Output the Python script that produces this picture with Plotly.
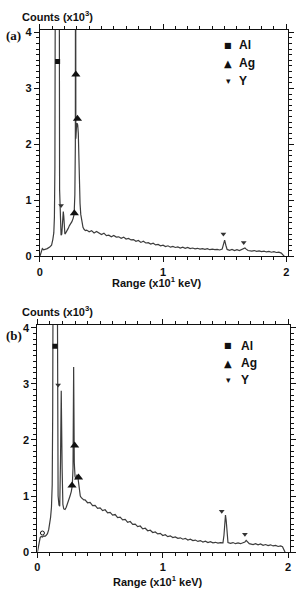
import plotly.graph_objects as go

# ---------------- data: panel (a) ----------------
energy_a = [0.0, 0.005, 0.012, 0.02, 0.03, 0.045, 0.06, 0.08, 0.095, 0.105, 0.113, 0.118, 0.122, 0.126,
            0.157, 0.16, 0.165, 0.172, 0.178, 0.185, 0.19, 0.194, 0.198, 0.203, 0.21, 0.22, 0.23, 0.24,
            0.25, 0.26, 0.27, 0.278, 0.284, 0.288, 0.29, 0.292, 0.297, 0.302, 0.307, 0.312, 0.316, 0.32,
            0.326, 0.332, 0.34, 0.35, 0.36, 0.37,
            0.38, 0.40, 0.42, 0.44, 0.46, 0.48, 0.50, 0.52, 0.54, 0.56, 0.58, 0.60, 0.62, 0.64, 0.66,
            0.68, 0.70, 0.72, 0.74, 0.76, 0.78, 0.80, 0.82, 0.84, 0.86, 0.88, 0.90, 0.92, 0.94, 0.96,
            0.98, 1.00, 1.02, 1.04, 1.06, 1.08, 1.10, 1.12, 1.14, 1.16, 1.18, 1.20, 1.22, 1.24, 1.26,
            1.28, 1.30, 1.32, 1.34, 1.36, 1.38, 1.40, 1.42, 1.44, 1.46, 1.48,
            1.49, 1.50, 1.51, 1.52, 1.54, 1.56, 1.58, 1.60, 1.62, 1.64, 1.655, 1.665, 1.675, 1.69,
            1.72, 1.74, 1.76, 1.78, 1.80, 1.82, 1.84, 1.86, 1.88, 1.90, 1.92, 1.94, 1.96, 1.975, 1.985]
counts_a = [0.0, 0.05, 0.1, 0.14, 0.12, 0.13, 0.14, 0.17, 0.2, 0.3, 0.42, 0.7, 1.6, 6.0,
            6.0, 1.2, 0.6, 0.38, 0.4, 0.62, 0.8, 0.72, 0.5, 0.4, 0.42, 0.45, 0.5, 0.55,
            0.58, 0.62, 0.68, 0.75, 1.1, 2.0, 8.0, 2.1, 2.3, 2.38, 2.35, 2.2, 1.8, 1.3,
            0.95, 0.75, 0.6, 0.52, 0.48, 0.46,
            0.47, 0.44, 0.46, 0.42, 0.445, 0.415, 0.39, 0.415, 0.37, 0.38, 0.35, 0.375, 0.345, 0.35, 0.325,
            0.345, 0.31, 0.32, 0.295, 0.30, 0.27, 0.285, 0.25, 0.27, 0.24, 0.245, 0.22, 0.235, 0.205, 0.215,
            0.19, 0.20, 0.175, 0.19, 0.165, 0.18, 0.16, 0.17, 0.15, 0.165, 0.145, 0.16, 0.14, 0.15, 0.135,
            0.145, 0.13, 0.14, 0.125, 0.14, 0.12, 0.13, 0.12, 0.125, 0.115, 0.13,
            0.2, 0.29, 0.2, 0.125, 0.11, 0.125, 0.105, 0.12, 0.105, 0.12, 0.14, 0.15, 0.13, 0.105,
            0.095, 0.105, 0.09, 0.1, 0.085, 0.095, 0.08, 0.09, 0.075, 0.085, 0.07, 0.075, 0.06, 0.03, 0.0]

al_a_x, al_a_y = [0.144], [3.48]
ag_a_x, ag_a_y = [0.292, 0.305, 0.28], [3.25, 2.46, 0.77]
y_a_x, y_a_y = [0.172, 1.49, 1.655], [0.91, 0.40, 0.25]

# ---------------- data: panel (b) ----------------
energy_b = [0.0, 0.008, 0.015, 0.022, 0.03, 0.04, 0.05, 0.06, 0.07, 0.08, 0.09, 0.098, 0.105, 0.112,
            0.118, 0.122, 0.126, 0.157, 0.16, 0.165, 0.172, 0.178, 0.184, 0.19, 0.197, 0.203, 0.21,
            0.22, 0.23, 0.24, 0.25, 0.26, 0.27, 0.278, 0.284, 0.289, 0.294, 0.3, 0.308, 0.315, 0.322,
            0.328, 0.335, 0.342, 0.35, 0.36, 0.37,
            0.38, 0.40, 0.42, 0.44, 0.46, 0.48, 0.50, 0.52, 0.54, 0.56, 0.58, 0.60, 0.62, 0.64, 0.66,
            0.68, 0.70, 0.72, 0.74, 0.76, 0.78, 0.80, 0.82, 0.84, 0.86, 0.88, 0.90, 0.92, 0.94, 0.96,
            0.98, 1.00, 1.02, 1.04, 1.06, 1.08, 1.10, 1.12, 1.14, 1.16, 1.18, 1.20, 1.22, 1.24, 1.26,
            1.28, 1.30, 1.32, 1.34, 1.36, 1.38, 1.40, 1.42, 1.44, 1.46, 1.48,
            1.488, 1.494, 1.50, 1.506, 1.512, 1.52, 1.54, 1.56, 1.58, 1.60, 1.62, 1.64, 1.655, 1.665,
            1.675, 1.69, 1.72, 1.74, 1.76, 1.78, 1.80, 1.82, 1.84, 1.86, 1.88, 1.90, 1.92, 1.94, 1.955,
            1.965, 1.975]
counts_b = [0.0, 0.08, 0.2, 0.26, 0.28, 0.27, 0.29, 0.28, 0.3, 0.33, 0.4, 0.5, 0.62, 0.8,
            1.2, 2.5, 6.0, 6.0, 2.0, 1.0, 0.84, 0.82, 1.6, 2.88, 1.5, 0.85, 0.77,
            0.76, 0.8, 0.86, 0.93, 1.0, 1.08, 1.18, 1.5, 3.3, 1.6, 1.35, 1.3, 1.38, 1.35,
            1.25, 1.1, 1.0, 0.97, 0.95, 0.93,
            0.93, 0.88, 0.885, 0.83, 0.835, 0.78, 0.79, 0.74, 0.755, 0.70, 0.71, 0.66, 0.67, 0.615, 0.625,
            0.575, 0.585, 0.53, 0.545, 0.495, 0.50, 0.455, 0.465, 0.415, 0.425, 0.38, 0.39, 0.35, 0.36, 0.325,
            0.335, 0.295, 0.31, 0.275, 0.29, 0.26, 0.27, 0.245, 0.255, 0.23, 0.245, 0.215, 0.23, 0.205, 0.215,
            0.19, 0.205, 0.18, 0.195, 0.17, 0.185, 0.165, 0.175, 0.16, 0.17, 0.165,
            0.3, 0.56, 0.66, 0.56, 0.3, 0.17, 0.155, 0.17, 0.15, 0.165, 0.15, 0.165, 0.18, 0.21,
            0.18, 0.15, 0.135, 0.15, 0.13, 0.145, 0.12, 0.135, 0.115, 0.13, 0.11, 0.12, 0.1, 0.11, 0.095,
            0.05, 0.0]

al_b_x, al_b_y = [0.14], [3.67]
ag_b_x, ag_b_y = [0.297, 0.276, 0.328], [1.9, 1.19, 1.33]
y_b_x, y_b_y = [0.165, 1.47, 1.655], [2.98, 0.73, 0.32]
o_b_x, o_b_y = [0.04], [0.34]

LINE = "#3c3c3c"
INK = "#111111"

fig = go.Figure()

def spectrum(x, y, xa, ya):
    fig.add_trace(go.Scatter(x=x, y=y, mode="lines", xaxis=xa, yaxis=ya,
                             line=dict(color=LINE, width=1.2), showlegend=False,
                             hoverinfo="skip"))

def marks(x, y, xa, ya, symbol, size, name, color=INK):
    fig.add_trace(go.Scatter(x=x, y=y, mode="markers", xaxis=xa, yaxis=ya, name=name,
                             marker=dict(symbol=symbol, size=size, color=color,
                                         line=dict(width=0)),
                             showlegend=False, cliponaxis=True))

spectrum(energy_a, counts_a, "x", "y")
marks(al_a_x, al_a_y, "x", "y", "square", 5, "Al")
marks(ag_a_x, ag_a_y, "x", "y", "triangle-up", 8, "Ag")
marks(y_a_x, y_a_y, "x", "y", "triangle-down", 5, "Y", "#333333")

spectrum(energy_b, counts_b, "x2", "y2")
marks(al_b_x, al_b_y, "x2", "y2", "square", 5, "Al")
marks(ag_b_x, ag_b_y, "x2", "y2", "triangle-up", 8, "Ag")
marks(y_b_x, y_b_y, "x2", "y2", "triangle-down", 5, "Y", "#333333")
fig.add_trace(go.Scatter(x=o_b_x, y=o_b_y, mode="markers", xaxis="x2", yaxis="y2",
                         marker=dict(symbol="circle-open", size=4, color=INK, line=dict(width=1)),
                         showlegend=False))

W, H = 301, 597
def px_x(p):
    return p / W
def px_y(p):
    return (H - p) / H

tickfont = dict(family="Liberation Sans, Arial, sans-serif", size=11, color="#111", weight="bold")

def axis_cfg(dom, anchor, rng):
    return dict(domain=dom, anchor=anchor, range=rng, tickmode="linear", tick0=0, dtick=1,
                showline=True, linecolor="#111", linewidth=1, mirror="allticks",
                ticks="outside", ticklen=5, tickwidth=1, tickcolor="#111",
                minor=dict(tickmode="linear", tick0=0, dtick=0.1, ticklen=3, tickwidth=1,
                           ticks="outside", tickcolor="#111", showgrid=False),
                showgrid=False, zeroline=False, tickfont=tickfont, fixedrange=True)

layout = dict(
    width=W, height=H, margin=dict(l=0, r=0, t=0, b=0),
    paper_bgcolor="white", plot_bgcolor="white", showlegend=False,
    xaxis=axis_cfg([px_x(37.5), px_x(289.5)], "y", [0, 2.012]),
    yaxis=axis_cfg([px_y(257.3), px_y(27)], "x", [0, 4.05]),
    xaxis2=axis_cfg([px_x(35), px_x(291.5)], "y2", [0, 2.012]),
    yaxis2=axis_cfg([px_y(557.5), px_y(327)], "x2", [0, 4.05]),
)

bold = dict(family="Liberation Sans, Arial, sans-serif", size=11, color="#111")
serif = dict(family="Liberation Serif, Times New Roman, serif", size=13, color="#111")
legfont = dict(family="Liberation Sans, Arial, sans-serif", size=12, color="#111")
glyph = dict(family="DejaVu Sans, sans-serif", color="#111")

ann = []
def text(x, y, s, font, xanchor="left"):
    ann.append(dict(x=px_x(x), y=px_y(y), xref="paper", yref="paper", text=s,
                    showarrow=False, xanchor=xanchor, yanchor="middle", font=font))

text(17, 13.5, "<b>Counts (x10<sup>3</sup>)</b>", bold)
text(17, 312.5, "<b>Counts (x10<sup>3</sup>)</b>", bold)
text(1, 33, "<b>(a)</b>", serif)
text(1, 338, "<b>(b)</b>", serif)

text(157, 283, "<b>Range (x10<sup>1</sup> keV)</b>", bold, "center")
text(158, 587, "<b>Range (x10<sup>1</sup> keV)</b>", bold, "center")

# legend keys
for (gx, tx, ys) in [(229, 238, [43, 61, 79]), (229, 240, [348, 366, 383])]:
    text(gx, ys[0], "■", dict(glyph, size=8), "center")
    text(gx, ys[1], "▲", dict(glyph, size=10), "center")
    text(gx, ys[2], "▾", dict(glyph, size=9), "center")
    text(tx, ys[0], "<b>Al</b>", legfont)
    text(tx, ys[1], "<b>Ag</b>", legfont)
    text(tx, ys[2], "<b>Y</b>", legfont)

layout["annotations"] = ann
fig.update_layout(**layout)
fig.write_html("out.html")
